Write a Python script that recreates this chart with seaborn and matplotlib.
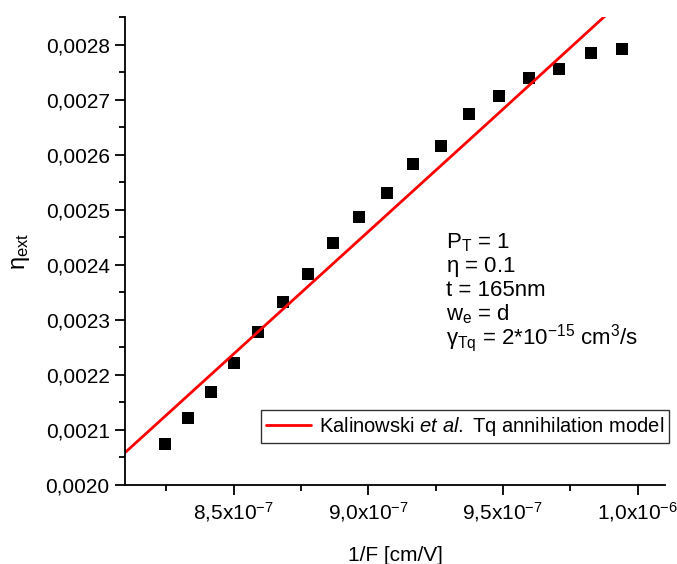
import numpy as np
import pandas as pd
import seaborn as sns
import matplotlib as mpl
import matplotlib.pyplot as plt
from matplotlib.ticker import MultipleLocator, FuncFormatter

# measured points (1/F [cm/V], eta_ext)
inv_field = [8.246e-7, 8.330e-7, 8.416e-7, 8.503e-7, 8.591e-7, 8.684e-7,
             8.777e-7, 8.870e-7, 8.967e-7, 9.068e-7, 9.167e-7, 9.272e-7,
             9.376e-7, 9.487e-7, 9.597e-7, 9.708e-7, 9.826e-7, 9.944e-7]
eta_ext = [0.002074, 0.002121, 0.002169, 0.002222, 0.002277, 0.002332,
           0.002383, 0.002439, 0.002486, 0.002531, 0.002583, 0.002615,
           0.002673, 0.002707, 0.002739, 0.002755, 0.002785, 0.002791]

# Tq annihilation model curve
model_x = [8.10e-7, 8.55e-7, 9.00e-7, 9.45e-7, 9.90e-7]
model_y = [0.002060, 0.002260, 0.002460, 0.002660, 0.002861]

sns.set_style("ticks")
mpl.rcParams.update({
    "font.family": ["Liberation Sans", "DejaVu Sans"],
    "mathtext.fontset": "custom",
    "mathtext.rm": "Liberation Sans",
    "mathtext.it": "Liberation Sans:italic",
    "mathtext.default": "regular",
    "axes.linewidth": 1.3,
    "text.color": "black",
    "axes.labelcolor": "black",
    "axes.edgecolor": "black",
    "xtick.color": "black",
    "ytick.color": "black",
})

df = pd.DataFrame({"x": inv_field, "y": eta_ext})
df_model = pd.DataFrame({"x": model_x, "y": model_y})

fig = plt.figure(figsize=(6.77, 5.64), dpi=100)
ax = fig.add_axes([0.1846, 0.1401, 0.7977, 0.8298])

sns.lineplot(data=df_model, x="x", y="y", ax=ax, color="#ff0000", linewidth=2.0,
             label=r"Kalinowski $\mathit{et\ al.}$ Tq annihilation model")
sns.scatterplot(data=df, x="x", y="y", ax=ax, marker="s", s=80, color="black",
                edgecolor="black", linewidth=0, legend=False)

ax.set_xlim(8.097e-7, 1.0102e-6)
ax.set_ylim(0.0020, 0.00285)

ax.xaxis.set_major_locator(MultipleLocator(5e-8))
ax.xaxis.set_minor_locator(MultipleLocator(2.5e-8))
ax.yaxis.set_major_locator(MultipleLocator(0.0001))
ax.yaxis.set_minor_locator(MultipleLocator(0.00005))


def xfmt(v, pos):
    exp = int(np.floor(np.log10(abs(v))))
    mant = v / 10 ** exp
    return ("%.1f" % mant).replace(".", ",") + "x10$^{%d}$" % exp


ax.xaxis.set_major_formatter(FuncFormatter(xfmt))
ax.yaxis.set_major_formatter(FuncFormatter(lambda v, p: ("%.4f" % v).replace(".", ",")))

ax.tick_params(which="major", direction="out", length=7, width=1.3, labelsize=15, pad=4)
ax.tick_params(which="minor", direction="out", length=4, width=1.3)

sns.despine(ax=ax)

ax.set_xlabel("1/F [cm/V]", fontsize=15, labelpad=16)
ax.set_ylabel(r"$\eta_{ext}$", fontsize=17, labelpad=10)

info = [r"P$_{T}$ = 1", r"$\eta$ = 0.1", "t = 165nm", r"w$_{e}$ = d",
        r"$\gamma_{Tq}$ = 2*10$^{-15}$ cm$^{3}$/s"]
for i, line in enumerate(info):
    ax.text(0.595, 0.517 - i * 0.0505, line, transform=ax.transAxes, fontsize=16,
            ha="left", va="center")

leg = ax.legend(loc="upper right", bbox_to_anchor=(0.988, 0.273),
                bbox_transform=fig.transFigure, fontsize=14.5, frameon=True,
                fancybox=False, borderpad=0.25, handlelength=2.2, handletextpad=0.4,
                borderaxespad=0)
leg.get_frame().set_edgecolor("black")
leg.get_frame().set_linewidth(1.0)

fig.savefig("out.png", dpi=100)
